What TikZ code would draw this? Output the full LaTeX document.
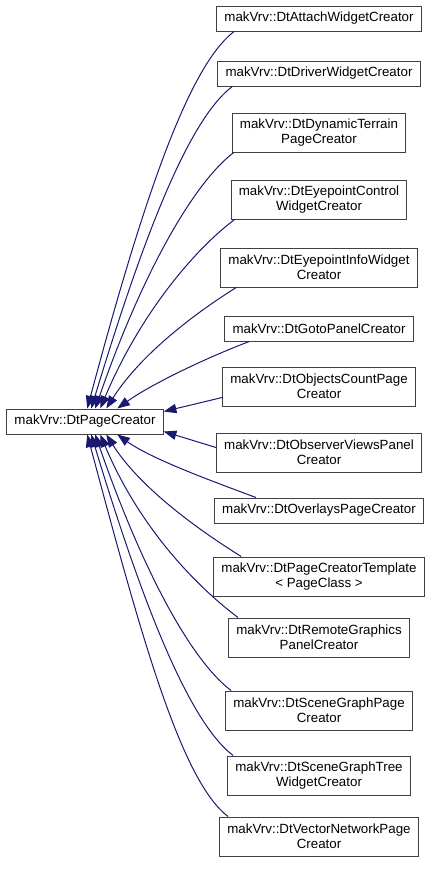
\documentclass[tikz,border=0pt]{standalone}
\usepackage{fontspec}
\setmainfont{Liberation Sans}
\usepackage{xcolor}
\usetikzlibrary{arrows.meta}
\usetikzlibrary{calc}

\definecolor{edgeblue}{HTML}{191970}
\definecolor{boxgray}{HTML}{404040}

\tikzset{
klass/.style={draw=boxgray, fill=white, line width=0.75pt, inner xsep=5.8pt, inner ysep=0pt, minimum height=18.75pt, align=center, font=\fontsize{10pt}{11pt}\selectfont},
klass2/.style={klass, minimum height=29.25pt},
inherit/.style={edgeblue, line width=0.75pt, {Triangle[length=9.5pt,width=7pt]}-}
}

\begin{document}
\begin{tikzpicture}[x=0.75pt, y=-0.75pt]

\fill[white] (0,0) rectangle (432,875);
\useasboundingbox (0,0) rectangle (432,875);

% base class
\node[klass] (base) at (85,421.5) {makVrv::DtPageCreator};

% derived classes
\node[klass] (attach) at (319,18.5) {makVrv::DtAttachWidgetCreator};
\node[klass] (driver) at (319,73.5) {makVrv::DtDriverWidgetCreator};
\node[klass2] (terrain) at (319,132.5) {makVrv::DtDynamicTerrain\\PageCreator};
\node[klass2] (eyectrl) at (319,199.5) {makVrv::DtEyepointControl\\WidgetCreator};
\node[klass2] (eyeinfo) at (319,267.5) {makVrv::DtEyepointInfoWidget\\Creator};
\node[klass] (gotopanel) at (319,328.5) {makVrv::DtGotoPanelCreator};
\node[klass2] (objcount) at (319,386.5) {makVrv::DtObjectsCountPage\\Creator};
\node[klass2] (observer) at (319,452.5) {makVrv::DtObserverViewsPanel\\Creator};
\node[klass] (overlays) at (319,510.5) {makVrv::DtOverlaysPageCreator};
\node[klass2] (template) at (319,576.5) {makVrv::DtPageCreatorTemplate\\< PageClass >};
\node[klass2] (remote) at (319,637.5) {makVrv::DtRemoteGraphics\\PanelCreator};
\node[klass2] (scenepage) at (319,710.5) {makVrv::DtSceneGraphPage\\Creator};
\node[klass2] (scenetree) at (319,775.5) {makVrv::DtSceneGraphTree\\WidgetCreator};
\node[klass2] (vecnet) at (319,836.5) {makVrv::DtVectorNetworkPage\\Creator};

% edges above the base
\draw[inherit] ($(base.north west)+(81,0)$) .. controls +(52,-194) and +(-48,36) .. ($(attach.south west)+(18,0)$);
\draw[inherit] ($(base.north west)+(85,0)$) .. controls +(50,-165) and +(-45,34) .. ($(driver.south west)+(15,0)$);
\draw[inherit] ($(base.north west)+(89,0)$) .. controls +(45,-130) and +(-42,32) .. ($(terrain.south west)+(2,0)$);
\draw[inherit] ($(base.north west)+(94,0)$) .. controls +(40,-95) and +(-40,30) .. ($(eyectrl.south west)+(4,0)$);
\draw[inherit] ($(base.north west)+(100,0)$) .. controls +(35,-55) and +(-40,25) .. ($(eyeinfo.south west)+(16,0)$);
\draw[inherit] ($(base.north west)+(111,0)$) .. controls +(35,-25) and +(-40,15) .. ($(gotopanel.south west)+(25,0)$);

% edges at the side
\draw[inherit] ($(base.east)+(0,-10)$) -- ($(objcount.west)+(0,11)$);
\draw[inherit] ($(base.east)+(0,10)$) -- ($(observer.west)+(0,-5)$);

% edges below the base
\draw[inherit] ($(base.south west)+(111,0)$) .. controls +(35,25) and +(-40,-15) .. ($(overlays.north west)+(42,0)$);
\draw[inherit] ($(base.south west)+(100,0)$) .. controls +(35,55) and +(-40,-25) .. ($(template.north west)+(28,0)$);
\draw[inherit] ($(base.south west)+(94,0)$) .. controls +(40,95) and +(-40,-30) .. ($(remote.north west)+(10,0)$);
\draw[inherit] ($(base.south west)+(89,0)$) .. controls +(45,130) and +(-42,-32) .. ($(scenepage.north west)+(6,0)$);
\draw[inherit] ($(base.south west)+(85,0)$) .. controls +(50,165) and +(-45,-34) .. ($(scenetree.north west)+(6,0)$);
\draw[inherit] ($(base.south west)+(81,0)$) .. controls +(52,194) and +(-48,-36) .. ($(vecnet.north west)+(9,0)$);

\end{tikzpicture}
\end{document}
